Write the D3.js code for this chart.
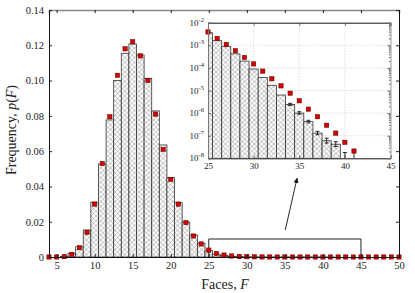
<!DOCTYPE html>
<html>
<head>
<meta charset="utf-8">
<script src="https://cdn.jsdelivr.net/npm/d3@7"></script>
<style>
  body { margin: 0; background: #fff; }
  svg { display: block; }
  text { font-family: "Liberation Serif", "DejaVu Serif", serif; fill: #222; }
</style>
</head>
<body>
<div id="chart"></div>
<script>
// face counts F
const faces = [4,5,6,7,8,9,10,11,12,13,14,15,16,17,18,19,20,21,22,23,24,25,26,27,
  28,29,30,31,32,33,34,35,36,37,38,39,40,41,42,43,44,45,46,47,48,49,50];
// histogram (bars)
const barP = [0,0,0.0003,0.002,0.0058,0.0153,0.031,0.0527,0.0777,0.100,0.1155,0.1207,
  0.1145,0.1013,0.0828,0.0635,0.045,0.0308,0.0197,0.0125,0.0078,0.0036,0.0016,8.7e-4,
  4.2e-4,2.0e-4,8.9e-5,3.8e-5,1.7e-5,6.3e-6,2.4e-6,1.0e-6,4.2e-7,1.3e-7,6.0e-8,4.2e-8,
  1.0e-8,1.0e-8,0,0,0,0,0,0,0,0,0];
// red squares
const simP = [0,0,0.0002,0.0015,0.0053,0.014,0.030,0.053,0.0795,0.103,0.118,0.122,
  0.114,0.100,0.081,0.061,0.044,0.030,0.0195,0.0119,0.0074,0.0039,0.0020,0.0011,
  5.8e-4,2.9e-4,1.5e-4,7.2e-5,3.3e-5,1.6e-5,7.6e-6,3.5e-6,1.5e-6,6.9e-7,2.9e-7,1.3e-7,
  5.1e-8,2.1e-8,0,0,0,0,0,0,0,0,0];
// error bars in the inset
const errF  = [34,35,36,37,38,39,40,41];
const errLo = [2.2e-6,0.9e-6,3.7e-7,1.1e-7,4.7e-8,3.3e-8,1.0e-8,1.0e-8];
const errHi = [2.7e-6,1.15e-6,4.8e-7,1.55e-7,7.7e-8,5.4e-8,1.8e-8,1.9e-8];

const xTicks = [5,10,15,20,25,30,35,40,45,50];
const yTicks = [0,0.02,0.04,0.06,0.08,0.10,0.12,0.14];
const xiTicks = [25,30,35,40,45];
const yiExp = [-2,-3,-4,-5,-6,-7,-8];

const W = 415, H = 293;
const svg = d3.select('#chart').append('svg').attr('width', W).attr('height', H);
const defs = svg.append('defs');

const hatch = defs.append('pattern').attr('id','hatch')
  .attr('patternUnits','userSpaceOnUse').attr('width',4.8).attr('height',4.8);
hatch.append('rect').attr('width',4.8).attr('height',4.8).attr('fill','#fff');
hatch.append('path').attr('d','M0,0L4.8,4.8M4.8,0L0,4.8M-1,1L1,-1M3.8,5.8L5.8,3.8')
  .attr('stroke','#808080').attr('stroke-width',0.5);

defs.append('marker').attr('id','arrow').attr('viewBox','0 0 10 10')
  .attr('refX',9).attr('refY',5).attr('markerWidth',7).attr('markerHeight',5)
  .attr('markerUnits','userSpaceOnUse').attr('orient','auto')
  .append('path').attr('d','M0,0L10,5L0,10z').attr('fill','#111');

// ---- main panel
const x = d3.scaleLinear().domain([4,50]).range([49,399]);
const y = d3.scaleLinear().domain([0,0.14]).range([257,10]);

defs.append('clipPath').attr('id','clipMain').append('rect')
  .attr('x',x(4)).attr('y',y(0.14)).attr('width',x(50)-x(4)).attr('height',y(0)-y(0.14));

const rows = faces.map((f,i)=>({f, bar: barP[i], sim: simP[i]}));

const mainG = svg.append('g').attr('clip-path','url(#clipMain)');
mainG.selectAll('rect.bar').data(rows.filter(d=>d.bar>0)).join('rect')
  .attr('class','bar')
  .attr('x', d=>x(d.f-0.5)).attr('width', d=>x(d.f+0.5)-x(d.f-0.5))
  .attr('y', d=>y(d.bar)).attr('height', d=>y(0)-y(d.bar))
  .attr('fill','url(#hatch)').attr('stroke','#333').attr('stroke-width',0.8);

// zoom box + arrow
svg.append('path')
  .attr('d', `M${x(25)},${y(0)}V${y(0.0102)}H${x(45)}V${y(0)}`)
  .attr('fill','none').attr('stroke','#222').attr('stroke-width',1);
svg.append('line')
  .attr('x1',x(35.05)).attr('y1',y(0.0153)).attr('x2',x(36.6)).attr('y2',y(0.0446))
  .attr('stroke','#111').attr('stroke-width',0.9).attr('marker-end','url(#arrow)');

const sq = 4.3;
svg.selectAll('rect.sim').data(rows).join('rect')
  .attr('class','sim')
  .attr('x', d=>x(d.f)-sq/2).attr('y', d=>y(d.sim)-sq/2)
  .attr('width',sq).attr('height',sq)
  .attr('fill','#d40000').attr('stroke','#5a0000').attr('stroke-width',0.5);

const fmtY = d => d === 0 ? '0' : d3.format('.2f')(d);
const ax = (g)=>{ g.selectAll('text').attr('font-size','10.5px').attr('fill','#222');
  g.selectAll('.tick line').attr('stroke','#222'); };

svg.append('g').attr('transform',`translate(0,${y(0)})`)
  .call(d3.axisBottom(x).tickValues(xTicks).tickSize(-3).tickPadding(5))
  .call(ax).call(g=>g.select('.domain').attr('stroke','#111'));
svg.append('g').attr('transform',`translate(0,${y(0.14)})`)
  .call(d3.axisTop(x).tickValues(xTicks).tickSize(-3).tickFormat(''))
  .call(ax).call(g=>g.select('.domain').attr('stroke','#888').attr('stroke-width',1.6));
svg.append('g').attr('transform',`translate(${x(4)},0)`)
  .call(d3.axisLeft(y).tickValues(yTicks).tickSize(-3).tickPadding(5).tickFormat(fmtY))
  .call(ax).call(g=>g.select('.domain').attr('stroke','#111'));
svg.append('g').attr('transform',`translate(${x(50)},0)`)
  .call(d3.axisRight(y).tickValues(yTicks).tickSize(-3).tickFormat(''))
  .call(ax).call(g=>g.select('.domain').attr('stroke','#111'));

// axis titles
const xt = svg.append('text').attr('x',225).attr('y',289)
  .attr('text-anchor','middle').attr('font-size','14px');
xt.append('tspan').text('Faces, ');
xt.append('tspan').attr('font-style','italic').text('F');

const yt = svg.append('text').attr('transform','translate(16,130) rotate(-90)')
  .attr('text-anchor','middle').attr('font-size','14px');
yt.append('tspan').text('Frequency, ');
yt.append('tspan').attr('font-style','italic').text('p');
yt.append('tspan').text('(');
yt.append('tspan').attr('font-style','italic').text('F');
yt.append('tspan').text(')');

// ---- inset
const xi = d3.scaleLinear().domain([25,45]).range([208,390.5]);
const yi = d3.scaleLog().domain([1e-8,1e-2]).range([158.3,22.7]);

defs.append('clipPath').attr('id','clipIn').append('rect')
  .attr('x',xi(25)).attr('y',yi(1e-2)).attr('width',xi(45)-xi(25)).attr('height',yi(1e-8)-yi(1e-2));

const inset = svg.append('g');
inset.append('rect').attr('x',xi(25)).attr('y',yi(1e-2))
  .attr('width',xi(45)-xi(25)).attr('height',yi(1e-8)-yi(1e-2)).attr('fill','#fff');

const grid = inset.append('g').attr('stroke','#c8c8c8').attr('stroke-width',0.7)
  .attr('stroke-dasharray','1.2,1.6');
grid.selectAll('line.gx').data(xiTicks.slice(1,-1)).join('line')
  .attr('x1',d=>xi(d)).attr('x2',d=>xi(d)).attr('y1',yi(1e-2)).attr('y2',yi(1e-8));
grid.selectAll('line.gy').data(yiExp.slice(1,-1)).join('line')
  .attr('y1',d=>yi(Math.pow(10,d))).attr('y2',d=>yi(Math.pow(10,d)))
  .attr('x1',xi(25)).attr('x2',xi(45));

const inRows = rows.filter(d=>d.f>=25 && d.f<=45);
const inG = inset.append('g').attr('clip-path','url(#clipIn)');
inG.selectAll('rect.ibar').data(inRows.filter(d=>d.bar>1e-8)).join('rect')
  .attr('class','ibar')
  .attr('x', d=>xi(d.f-0.5)).attr('width', d=>xi(d.f+0.5)-xi(d.f-0.5))
  .attr('y', d=>yi(d.bar)).attr('height', d=>yi(1e-8)-yi(d.bar))
  .attr('fill','url(#hatch)').attr('stroke','#333').attr('stroke-width',0.8);

const errRows = errF.map((f,i)=>({f, lo: errLo[i], hi: errHi[i]}));
const eb = inG.append('g').attr('stroke','#111').attr('stroke-width',0.9);
eb.selectAll('line.ev').data(errRows).join('line')
  .attr('x1',d=>xi(d.f)).attr('x2',d=>xi(d.f)).attr('y1',d=>yi(d.lo)).attr('y2',d=>yi(d.hi));
eb.selectAll('line.ecap').data(errRows).join('line')
  .attr('x1',d=>xi(d.f)-2).attr('x2',d=>xi(d.f)+2).attr('y1',d=>yi(d.hi)).attr('y2',d=>yi(d.hi));
eb.selectAll('line.ecap2').data(errRows.filter(d=>d.lo>1e-8)).join('line')
  .attr('x1',d=>xi(d.f)-2).attr('x2',d=>xi(d.f)+2).attr('y1',d=>yi(d.lo)).attr('y2',d=>yi(d.lo));

inset.selectAll('rect.isim').data(inRows.filter(d=>d.sim>0)).join('rect')
  .attr('class','isim')
  .attr('x', d=>xi(d.f)-sq/2).attr('y', d=>yi(d.sim)-sq/2)
  .attr('width',sq).attr('height',sq)
  .attr('fill','#d40000').attr('stroke','#5a0000').attr('stroke-width',0.5);

// inset axes
const minor = [];
yiExp.forEach(e=>{ if (e > -8) for (let k=2;k<10;k++) minor.push(k*Math.pow(10,e-1)); });
const inAx = g=>{ g.selectAll('text').attr('font-size','9px').attr('fill','#222');
  g.selectAll('.tick line').attr('stroke','#666'); };

inset.append('g').attr('transform',`translate(0,${yi(1e-8)})`)
  .call(d3.axisBottom(xi).tickValues(xiTicks).tickSize(-3).tickPadding(4))
  .call(inAx).call(g=>g.select('.domain').attr('stroke','#111'));
inset.append('g').attr('transform',`translate(0,${yi(1e-2)})`)
  .call(d3.axisTop(xi).tickValues(xiTicks).tickSize(-3).tickFormat(''))
  .call(inAx).call(g=>g.select('.domain').attr('stroke','#111'));
inset.append('g').attr('transform',`translate(${xi(25)},0)`)
  .call(d3.axisLeft(yi).tickValues(yiExp.map(e=>Math.pow(10,e))).tickSize(-3).tickFormat(''))
  .call(inAx).call(g=>g.select('.domain').attr('stroke','#777'));
inset.append('g').attr('transform',`translate(${xi(45)},0)`)
  .call(d3.axisRight(yi).tickValues(yiExp.map(e=>Math.pow(10,e))).tickSize(-3).tickFormat(''))
  .call(inAx).call(g=>g.select('.domain').attr('stroke','#999'));
inset.append('g').attr('transform',`translate(${xi(45)},0)`)
  .call(d3.axisRight(yi).tickValues(minor).tickSize(-1.6).tickFormat(''))
  .call(inAx).call(g=>g.select('.domain').remove());

const lab = inset.selectAll('text.ylab').data(yiExp).join('text')
  .attr('class','ylab').attr('text-anchor','end').attr('font-size','9px')
  .attr('x',204).attr('y',d=>yi(Math.pow(10,d))+3);
lab.append('tspan').text('10');
lab.append('tspan').attr('dy','-4').attr('font-size','6.5px').text(d=>String(d));
</script>
</body>
</html>
